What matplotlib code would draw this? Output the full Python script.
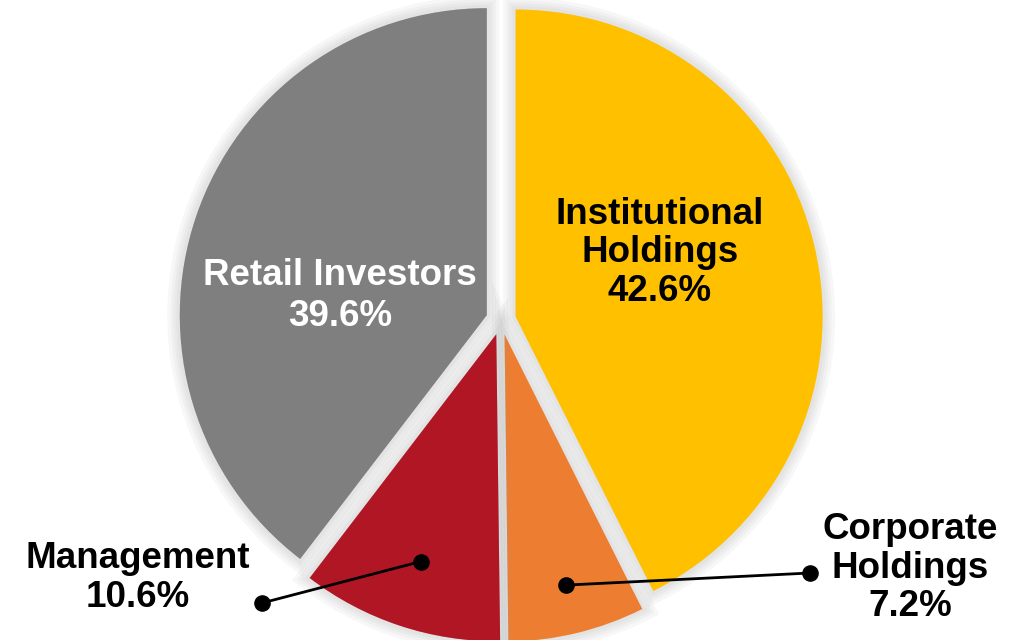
import numpy as np
import matplotlib.pyplot as plt
import matplotlib.patheffects as pe

plt.rcParams['font.family'] = ['Liberation Sans', 'DejaVu Sans']

# data, clockwise from 12 o'clock
categories = ["Institutional\nHoldings", "Corporate\nHoldings", "Management", "Retail Investors"]
shares = [42.6, 7.2, 10.6, 39.6]
colors = ['#FFC000', '#ED7D31', '#B01623', '#7F7F7F']

W, H = 1030, 640
fig = plt.figure(figsize=(W / 100, H / 100), dpi=100)
ax = fig.add_axes([0, 0, 1, 1])

R = 307
cx, cy = 501, 320
gap = 15  # explode offset, in data units (pixels here)

# soft grey halo round each slice
halo = [pe.Stroke(linewidth=w, foreground='#9a9a9a', alpha=0.07) for w in (18, 13, 9, 5)] + [pe.Normal()]

wedges, _ = ax.pie(shares, colors=colors, startangle=90, counterclock=False,
                   explode=[gap] * 4, radius=R, center=(cx, cy),
                   wedgeprops=dict(linewidth=0), frame=True)
for w in wedges:
    w.set_path_effects(halo)
ax.set_xlim(0, W)
ax.set_ylim(0, H)
ax.set_aspect('equal')
ax.axis('off')

fs = 26.5
ax.text(660, H - 253, f"{categories[0]}\n{shares[0]}%", ha='center', va='center',
        fontsize=fs, fontweight='bold', color='black', linespacing=1.12)
ax.text(340, H - 296, f"{categories[3]}\n{shares[3]}%", ha='center', va='center',
        fontsize=fs, fontweight='bold', color='white', linespacing=1.2)


# leader lines from a point inside a wedge to its outside label
def leader(w, frac, end):
    mid = np.deg2rad((w.theta1 + w.theta2) / 2)
    ox, oy = w.center
    px = ox + frac * R * np.cos(mid)
    py = oy + frac * R * np.sin(mid)
    ax.plot([px, end[0]], [py, end[1]], color='black', lw=2.0, zorder=5)
    ax.scatter([px, end[0]], [py, end[1]], s=120, color='black', zorder=6)


leader(wedges[2], 0.78, (262, H - 603))
leader(wedges[1], 0.84, (810, H - 573))

ax.text(138, H - 578, f"{categories[2]}\n{shares[2]}%", ha='center', va='center',
        fontsize=fs, fontweight='bold', color='black', linespacing=1.12)
ax.text(910, H - 568, f"{categories[1]}\n{shares[1]}%", ha='center', va='center',
        fontsize=fs, fontweight='bold', color='black', linespacing=1.12)

fig.savefig('out.png', dpi=100)
